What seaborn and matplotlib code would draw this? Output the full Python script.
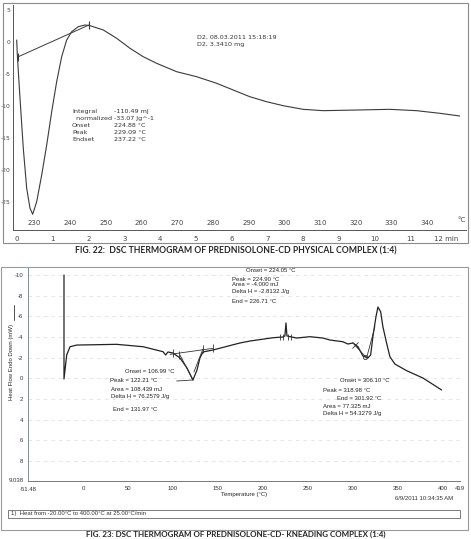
import numpy as np
import pandas as pd
import matplotlib
matplotlib.use("Agg")
import matplotlib.pyplot as plt
from matplotlib.lines import Line2D
from matplotlib.patches import Rectangle
from matplotlib.ticker import MultipleLocator
import seaborn as sns

# ---- FIG. 22 : physical complex (temperature in degC, heat flow) ----
phys_temp = [225.08, 225.25, 226.0, 226.92, 227.87, 228.8, 229.55, 230.67, 232.07,
             233.47, 234.87, 236.26, 237.66, 239.06, 240.46, 242.3, 244.18, 245.58,
             249.3, 253.04, 256.76, 260.48, 264.23, 269.82, 275.41, 281.01, 285.65,
             290.32, 294.99, 299.63, 305.22, 310.82, 320.16, 329.47, 336.94, 343.45,
             349.04]
phys_flow = [0.31, -2.03, -8.8, -16.61, -22.86, -25.98, -26.92, -24.95, -20.78,
             -16.09, -10.89, -6.2, -2.3, 0.31, 1.61, 2.39, 2.66, 2.55,
             1.88, 0.58, -0.98, -2.3, -3.33, -4.64, -5.42, -6.45, -7.5,
             -8.55, -9.33, -9.95, -10.52, -10.73, -10.63, -10.52, -10.73, -11.14,
             -11.56]
phys_base_temp = [225.53, 245.3]
phys_base_flow = [-2.3, 2.66]
phys_yticks = [5, 0, -5, -10, -15, -20, -25]
phys_xticks = [230, 240, 250, 260, 270, 280, 290, 300, 310, 320, 330, 340]
phys_minutes = list(range(13))
phys_info = ["Integral", "  normalized", "Onset", "Peak", "Endset"]
phys_vals = ["-110.49 mJ", "-33.07 Jg^-1", "224.88 °C", "229.09 °C", "237.22 °C"]

# ---- FIG. 23 : kneading complex ----
knead_temp = [-21.1, -21.1, -18.1, -14.4, -7.0, 37.4, 66.7, 88.9, 91.9, 94.4, 100.0,
              107.8, 115.6, 121.1, 122.2, 126.7, 130.0, 133.3, 144.4, 174.4, 185.6,
              211.1, 222.2, 224.4, 225.6, 226.7, 237.4, 252.2, 266.7, 274.4, 288.9,
              294.4, 300.0, 305.6, 311.1, 316.7, 319.7, 322.2, 325.6, 327.8, 330.8,
              333.3, 337.4, 341.1, 346.7, 359.7, 377.8, 398.6]
knead_flow = [-10.0, 0.07, -2.26, -3.06, -3.22, -3.29, -3.06, -2.58, -2.26, -2.55, -2.45,
              -1.97, -1.0, -0.03, 0.16, -0.8, -1.97, -2.55, -2.74, -3.42, -3.61,
              -3.93, -4.0, -4.1, -5.36, -4.1, -3.9, -4.03, -3.9, -3.71, -3.54,
              -3.32, -3.42, -3.06, -2.16, -1.97, -2.26, -4.03, -5.96, -6.9, -6.45,
              -5.0, -3.42, -2.09, -1.38, -0.74, -0.03, 1.13]
knead_xticks = [0, 50, 100, 150, 200, 250, 300, 350, 400, 419]
knead_yticks = [-10, -8, -6, -4, -2, 0, 2, 4, 6, 8]

W, H = 471, 539
sns.set_style("white")
plt.rcParams["font.family"] = ["DejaVu Sans"]
plt.rcParams["axes.unicode_minus"] = False

fig = plt.figure(figsize=(W / 100, H / 100), dpi=100)


def fx(px):
    return px / W


def fy(py):
    return 1 - py / H


# outer frames of the two scanned plots
fig.add_artist(Rectangle((fx(3), fy(243)), fx(465), 240 / H, fill=False, ec="#8a8a8a", lw=0.8))
fig.add_artist(Rectangle((fx(1), fy(530)), fx(467), 263 / H, fill=False, ec="#9a9a9a", lw=0.8))

# ================= top plot =================
ax1 = fig.add_axes([fx(13), fy(230), fx(453), 225 / H])
df1 = pd.DataFrame({"temp": phys_temp, "flow": phys_flow})
sns.lineplot(data=df1, x="temp", y="flow", ax=ax1, color="#3a3a3a", lw=0.8,
             sort=False, estimator=None)
ax1.plot(phys_base_temp, phys_base_flow, color="#3a3a3a", lw=0.7)
ax1.plot(phys_base_temp, phys_base_flow, ls="none", marker="|", ms=6, mec="#3a3a3a", mew=0.8)
ax1.set_xlim(224.04, 350.8)
ax1.set_ylim(-29.375, 5.78)
ax1.set_xlabel("")
ax1.set_ylabel("")
for s in ["top", "right"]:
    ax1.spines[s].set_visible(False)
ax1.spines["left"].set_color("#555555")
ax1.spines["bottom"].set_color("#555555")
ax1.spines["left"].set_linewidth(0.7)
ax1.spines["bottom"].set_linewidth(0.7)
ax1.set_yticks(phys_yticks)
ax1.yaxis.set_minor_locator(MultipleLocator(1))
ax1.set_xticks(phys_xticks)
ax1.xaxis.set_minor_locator(MultipleLocator(2))
ax1.tick_params(axis="y", which="major", labelsize=4.3, length=1.5, width=0.6, pad=0.5,
                colors="#444444", direction="out")
ax1.tick_params(axis="y", which="minor", length=1.2, width=0.5, colors="#444444")
ax1.tick_params(axis="x", which="major", labelsize=5, length=3, width=0.6,
                direction="inout", pad=-8.5, colors="#444444")
ax1.tick_params(axis="x", which="minor", length=2, width=0.5, direction="inout",
                colors="#444444")
ax1.text(1.0, 0.045, "°C", transform=ax1.transAxes, fontsize=5, color="#444444",
         ha="right", va="center")

sec = ax1.secondary_xaxis("bottom", functions=(lambda t: (t - 225.2) / 10.0,
                                                lambda m: m * 10.0 + 225.2))
sec.set_xticks(phys_minutes)
sec.set_xticklabels([str(m) for m in phys_minutes[:-1]] + ["12 min"])
sec.tick_params(labelsize=5, length=0, pad=4.5, colors="#444444")
sec.spines["bottom"].set_visible(False)

fig.text(fx(197), fy(37.7), "D2, 08.03.2011 15:18:19", fontsize=4.6, color="#333333", va="center")
fig.text(fx(197), fy(44.3), "D2, 3.3410 mg", fontsize=4.6, color="#333333", va="center")
rows_y = [111.7, 118.3, 125.7, 132.3, 139.3]
for lab, val, ry in zip(phys_info, phys_vals, rows_y):
    fig.text(fx(72), fy(ry), lab, fontsize=4.6, color="#333333", va="center")
    fig.text(fx(114), fy(ry), val, fontsize=4.6, color="#333333", va="center")

fig.text(0.5, fy(250.5), "FIG. 22:  DSC THERMOGRAM OF PREDNISOLONE-CD PHYSICAL COMPLEX (1:4)",
         ha="center", va="center", fontsize=6.2, fontweight="bold", family=["Lato", "DejaVu Sans"])

# ================= bottom plot =================
ax2 = fig.add_axes([fx(28), fy(481), fx(432), 213 / H])
df2 = pd.DataFrame({"temp": knead_temp, "flow": knead_flow})
sns.lineplot(data=df2, x="temp", y="flow", ax=ax2, color="#222222", lw=0.9,
             sort=False, estimator=None)
# integration construction lines
ax2.plot([96.7, 144.4], [-2.32, -2.9], color="#333333", lw=0.6)
ax2.plot([107.8, 122.2], [-2.26, 0.16], color="#333333", lw=0.6)
ax2.plot([133.3, 123.3], [-2.84, -0.61], color="#333333", lw=0.6)
ax2.plot([104.1, 122.2], [0.26, 0.16], color="#333333", lw=0.6)
ax2.plot([100, 107, 133, 144], [-2.45, -2.3, -2.8, -2.9], ls="none", marker="|", ms=6,
         mec="#333333", mew=0.6)
ax2.plot([219, 222, 228, 231], [-4.0, -4.0, -4.0, -4.0], ls="none", marker="|", ms=5,
         mec="#333333", mew=0.6)
ax2.plot([302.2, 315.2, 324.4], [-3.22, -1.97, -4.99], color="#333333", lw=0.6)
ax2.plot([302.5], [-3.25], ls="none", marker="x", ms=4, mec="#333333", mew=0.6)
ax2.plot([313], [-2.1], ls="none", marker="o", ms=3, mfc="none", mec="#333333", mew=0.6)

ax2.set_xlim(-61.1, 419)
ax2.set_ylim(9.94, -10.68)
ax2.set_xticks(knead_xticks)
ax2.set_yticks(knead_yticks)
ax2.grid(axis="y", ls=(0, (5, 6)), color="#dcdcdc", lw=0.5)
for s in ["top", "right"]:
    ax2.spines[s].set_visible(False)
ax2.spines["left"].set_color("#7d9090")
ax2.spines["bottom"].set_color("#777777")
ax2.spines["left"].set_linewidth(0.7)
ax2.spines["bottom"].set_linewidth(0.7)
ax2.tick_params(labelsize=4.3, length=2, width=0.5, pad=1.5, colors="#333333",
                labelfontfamily="Liberation Sans")
ax2.set_xlabel("Temperature (°C)", fontsize=4.3, family="Liberation Sans", labelpad=0.5)
ax2.set_ylabel("Heat Flow Endo Down (mW)", fontsize=4.3, family="Liberation Sans")
ax2.yaxis.set_label_coords(-0.032, 0.56)
ax2.text(0.0, -0.03, "-51.48", transform=ax2.transAxes, fontsize=4.3, ha="center", va="top",
         family="Liberation Sans", color="#333333")
ax2.text(-0.01, 0.0, "9.038", transform=ax2.transAxes, fontsize=4.3, ha="right", va="center",
         family="Liberation Sans", color="#333333")
fig.add_artist(Line2D([fx(14), fx(14)], [fy(305), fy(320)], color="#333333", lw=0.6))

notes = [
    (246, 270.7, "Onset = 224.05 °C"),
    (231.7, 279.3, "Peak = 224.90 °C"),
    (231.7, 285.0, "Area = -4.000 mJ"),
    (231.7, 291.7, "Delta H = -2.8132 J/g"),
    (231.7, 301.7, "End = 226.71 °C"),
    (125, 371.7, "Onset = 106.99 °C"),
    (110, 380.0, "Peak = 122.21 °C"),
    (110.7, 389.3, "Area = 108.439 mJ"),
    (110.7, 396.7, "Delta H = 76.2579 J/g"),
    (112.7, 409.3, "End = 131.97 °C"),
    (340, 381.0, "Onset = 306.10 °C"),
    (323.3, 390.0, "Peak = 318.98 °C"),
    (337.3, 398.3, "End = 301.92 °C"),
    (323.3, 406.0, "Area = 77.325 mJ"),
    (323.3, 414.0, "Delta H = 54.3279 J/g"),
]
for px, py, txt in notes:
    fig.text(fx(px), fy(py), txt, fontsize=4.3, va="center", family="Liberation Sans",
             color="#222222")

fig.text(fx(453), fy(499), "6/9/2011 10:34:35 AM", fontsize=4.3, ha="right", va="center",
         family="Liberation Sans", color="#333333")
fig.add_artist(Rectangle((fx(8), fy(518)), fx(452), 8 / H, fill=False, ec="#666666", lw=0.6))
fig.text(fx(11), fy(514), "1)  Heat from -20.00°C to 400.00°C at 25.00°C/min", fontsize=4.3,
         va="center", family="Liberation Sans", color="#333333")

fig.text(0.5, fy(538.5), "FIG. 23: DSC THERMOGRAM OF PREDNISOLONE-CD- KNEADING COMPLEX (1:4)",
         ha="center", va="bottom", fontsize=5.8, fontweight="bold", family=["Lato", "DejaVu Sans"])

fig.savefig("out.png", dpi=100)
